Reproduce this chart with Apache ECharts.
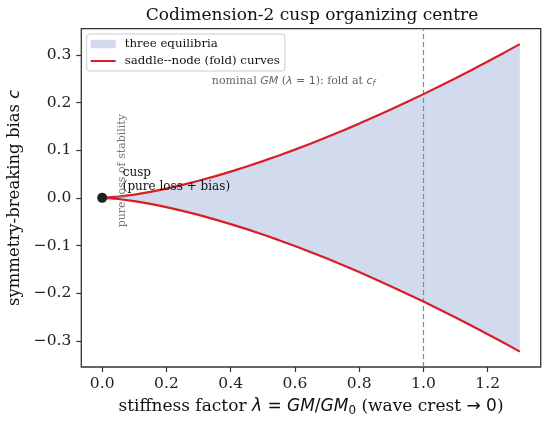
<!DOCTYPE html>
<html>
<head>
<meta charset="utf-8">
<script src="https://cdn.jsdelivr.net/npm/echarts@6/dist/echarts.min.js"></script>
<style>
  html, body { margin: 0; padding: 0; background: #fff; }
  #chart { width: 550px; height: 423px; }
</style>
</head>
<body>
<div id="chart"></div>
<script>
// stiffness factor lambda and the two fold (saddle-node) branches
const lambda = [0, 0.05, 0.1, 0.15, 0.2, 0.25, 0.3, 0.35, 0.4, 0.45, 0.5, 0.55, 0.6, 0.65,
  0.7, 0.75, 0.8, 0.85, 0.9, 0.95, 1.0, 1.05, 1.1, 1.15, 1.2, 1.25, 1.3];
const foldUpper = [0, 0.0024, 0.0069, 0.0127, 0.0195, 0.0272, 0.0358, 0.0451, 0.0551, 0.0657,
  0.0770, 0.0888, 0.1012, 0.1141, 0.1275, 0.1414, 0.1558, 0.1706, 0.1859, 0.2016, 0.2177,
  0.2342, 0.2512, 0.2685, 0.2862, 0.3042, 0.3227];
const foldLower = [0, -0.0024, -0.0069, -0.0127, -0.0195, -0.0272, -0.0358, -0.0451, -0.0551, -0.0657,
  -0.0770, -0.0888, -0.1012, -0.1141, -0.1275, -0.1414, -0.1558, -0.1706, -0.1859, -0.2016, -0.2177,
  -0.2342, -0.2512, -0.2685, -0.2862, -0.3042, -0.3227];
const cuspPoint = [0, 0];
const nominalLambda = 1;
const xTicks = [0, 0.2, 0.4, 0.6, 0.8, 1.0, 1.2];
const yTicks = [-0.3, -0.2, -0.1, 0, 0.1, 0.2, 0.3];

const serif = 'DejaVu Serif';
const sans = 'DejaVu Sans';
const bandColor = '#d1dbed';
const foldColor = '#d81e28';

var chartDom = document.getElementById('chart');
var myChart = echarts.init(chartDom, null, { renderer: 'canvas' });

function fmt(v) {
  return (v < 0 ? '\u2212' : '') + Math.abs(v).toFixed(1);
}

function mathRich(size) {
  return {
    s: { fontFamily: serif, fontSize: size, color: '#111' },
    i: { fontFamily: sans, fontStyle: 'italic', fontSize: size, color: '#111' },
    m: { fontFamily: sans, fontSize: size, color: '#111' },
    sub: { fontFamily: sans, fontSize: size * 0.7, color: '#111', padding: [8, 0, 0, 0] }
  };
}

var option = {
  animation: false,
  title: {
    text: 'Codimension-2 cusp organizing centre',
    left: 307,
    textAlign: 'center',
    top: 2,
    textStyle: { fontFamily: serif, fontSize: 17, fontWeight: 'normal', color: '#111' }
  },
  grid: {
    left: 81.3, right: 9.3, top: 28.7, bottom: 56,
    containLabel: false,
    outerBoundsMode: 'none',
    show: true, borderColor: '#333', borderWidth: 1.3, backgroundColor: 'transparent'
  },
  legend: {
    orient: 'vertical',
    left: 86.7,
    top: 34,
    padding: [3, 5, 3, 3],
    itemWidth: 25,
    itemHeight: 8.5,
    itemGap: 3,
    backgroundColor: 'rgba(255,255,255,0.85)',
    borderColor: '#cccccc',
    borderWidth: 1,
    borderRadius: 3,
    textStyle: { fontFamily: serif, fontSize: 11.8, color: '#111', lineHeight: 14, padding: [0, 0, 0, 4] },
    data: [
      { name: 'three equilibria', icon: 'rect' },
      { name: 'saddle--node (fold) curves', itemStyle: { color: 'rgba(0,0,0,0)', borderWidth: 0 } }
    ]
  },
  xAxis: {
    type: 'value',
    min: -0.065,
    max: 1.365,
    name: '{s|stiffness factor }{i|λ}{m| = }{i|GM}{m|/}{i|GM}{sub|0}{s| (wave crest }{m|→ 0}{s|)}',
    nameLocation: 'middle',
    nameGap: 30,
    nameTextStyle: { rich: mathRich(17) },
    splitLine: { show: false },
    axisLine: { show: false, onZero: false },
    axisTick: { show: true, customValues: xTicks, length: 5, lineStyle: { color: '#333', width: 1.2 } },
    axisLabel: { customValues: xTicks, formatter: fmt, margin: 9, fontFamily: serif, fontSize: 15.5, color: '#222' }
  },
  yAxis: {
    type: 'value',
    min: -0.355,
    max: 0.355,
    name: '{s|symmetry-breaking bias }{i|c}',
    nameLocation: 'middle',
    nameGap: 50,
    nameRotate: 90,
    nameTextStyle: { rich: mathRich(16.5) },
    splitLine: { show: false },
    axisLine: { show: false, onZero: false },
    axisTick: { show: true, customValues: yTicks, length: 5, lineStyle: { color: '#333', width: 1.2 } },
    axisLabel: { customValues: yTicks, formatter: fmt, margin: 10, fontFamily: serif, fontSize: 15.5, color: '#222' }
  },
  series: [
    {
      name: 'three equilibria',
      type: 'custom',
      data: lambda.map((x, i) => [x, foldUpper[i], foldLower[i]]),
      encode: { x: 0, y: [1, 2] },
      itemStyle: { color: bandColor },
      z: 1,
      renderItem: function (params, api) {
        if (params.dataIndex !== 0) return null;
        const top = lambda.map((x, i) => api.coord([x, foldUpper[i]]));
        const bot = lambda.map((x, i) => api.coord([x, foldLower[i]])).reverse();
        return {
          type: 'polygon',
          shape: { points: top.concat(bot) },
          style: { fill: bandColor }
        };
      }
    },
    {
      name: 'saddle--node (fold) curves',
      type: 'line',
      data: lambda.map((x, i) => [x, foldUpper[i]]),
      symbol: 'none',
      lineStyle: { color: foldColor, width: 2.2 },
      itemStyle: { color: foldColor },
      z: 3,
      markLine: {
        silent: true,
        symbol: ['none', 'none'],
        label: { show: false },
        lineStyle: { color: '#888', type: [5, 3], width: 1.2 },
        data: [{ xAxis: nominalLambda }],
        z: 2
      }
    },
    {
      name: 'saddle--node (fold) curves',
      type: 'line',
      data: lambda.map((x, i) => [x, foldLower[i]]),
      symbol: 'none',
      lineStyle: { color: foldColor, width: 2.2 },
      itemStyle: { color: foldColor },
      z: 3
    },
    {
      name: 'cusp',
      type: 'scatter',
      data: [cuspPoint],
      symbolSize: 10,
      itemStyle: { color: '#222', opacity: 1 },
      z: 5
    }
  ]
};

option && myChart.setOption(option);

// annotations placed in data coordinates
const toPx = (p) => myChart.convertToPixel({ gridIndex: 0 }, p);
const pNominal = toPx([0.85, 0.245]);
const pCusp = toPx([0.064, 0.0675]);
const pPure = toPx([0.062, 0.057]);

myChart.setOption({
  graphic: [
    {
      type: 'text',
      x: pNominal[0], y: pNominal[1],
      z: 10,
      style: {
        text: '{s|nominal }{i|GM}{s| (}{i|λ}{m| = 1}{s|): fold at }{i|c}{sub|f}',
        align: 'right',
        verticalAlign: 'middle',
        rich: {
          s: { fontFamily: serif, fontSize: 11, fill: '#666' },
          i: { fontFamily: sans, fontStyle: 'italic', fontSize: 11, fill: '#666' },
          m: { fontFamily: sans, fontSize: 11, fill: '#666' },
          sub: { fontFamily: sans, fontStyle: 'italic', fontSize: 8, fill: '#666', padding: [6, 0, 0, 0] }
        }
      }
    },
    {
      type: 'text',
      x: pCusp[0], y: pCusp[1],
      z: 10,
      style: {
        text: 'cusp\n(pure loss + bias)',
        fontFamily: serif,
        fontSize: 12,
        lineHeight: 14,
        fill: '#111',
        align: 'left',
        verticalAlign: 'top'
      }
    },
    {
      type: 'text',
      x: pPure[0], y: pPure[1],
      rotation: Math.PI / 2,
      z: 9,
      style: {
        text: 'pure loss of stability',
        fontFamily: serif,
        fontSize: 11,
        fill: '#777',
        align: 'center',
        verticalAlign: 'middle'
      }
    }
  ]
});
</script>
</body>
</html>
